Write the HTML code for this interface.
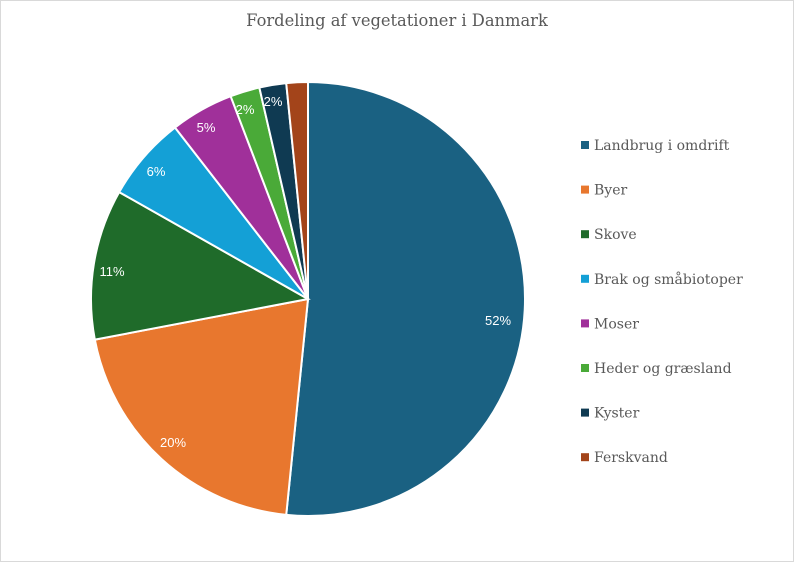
<!DOCTYPE html>
<html><head><meta charset="utf-8"><style>
body{margin:0;background:#fff}
svg{display:block}
</style></head><body>
<svg id="s" width="794" height="562" xmlns="http://www.w3.org/2000/svg">
<rect x="0.5" y="0.5" width="793" height="561" fill="#fff" stroke="#d9d9d9"/>
<text x="397" y="26" text-anchor="middle" font-family="DejaVu Serif, serif" font-size="16.3" fill="#595959">Fordeling af vegetationer i Danmark</text>
<g id="pie"></g>
<g font-family="Liberation Sans, sans-serif" font-size="13" fill="#fff" text-anchor="middle">
<text x="498" y="325">52%</text>
<text x="173" y="447">20%</text>
<text x="112" y="276">11%</text>
<text x="156" y="176">6%</text>
<text x="206" y="132">5%</text>
<text x="245" y="114">2%</text>
<text x="273" y="106">2%</text>
</g>
<g id="leg" font-family="DejaVu Serif, serif" font-size="14" fill="#595959"></g>
</svg>
<script>
var cx=308,cy=299,r=217;
var cum=[0,51.6,72,83.2,89.5,94.2,96.4,98.4,100];
var cols=["#1a6182","#e8772e","#1f6b2a","#14a0d6","#a0309a","#4aaa38","#0f3a52","#a3441a"];
var names=["Landbrug i omdrift","Byer","Skove","Brak og småbiotoper","Moser","Heder og græsland","Kyster","Ferskvand"];
var g=document.getElementById('pie'),h='';
function pt(p){var a=p/100*2*Math.PI;return [cx+r*Math.sin(a),cy-r*Math.cos(a)];}
for(var i=0;i<8;i++){var a=pt(cum[i]),b=pt(cum[i+1]),l=(cum[i+1]-cum[i])>50?1:0;
h+='<path d="M'+cx+','+cy+'L'+a[0]+','+a[1]+'A'+r+','+r+' 0 '+l+' 1 '+b[0]+','+b[1]+'Z" fill="'+cols[i]+'" stroke="#fff" stroke-width="2"/>';}
g.innerHTML=h;
var lg='';for(var i=0;i<8;i++){var y=145+i*44.6;
lg+='<rect x="581" y="'+(y-4)+'" width="8" height="8" fill="'+cols[i]+'"/><text x="594" y="'+(y+5)+'">'+names[i]+'</text>';}
document.getElementById('leg').innerHTML=lg;
</script>
</body></html>
